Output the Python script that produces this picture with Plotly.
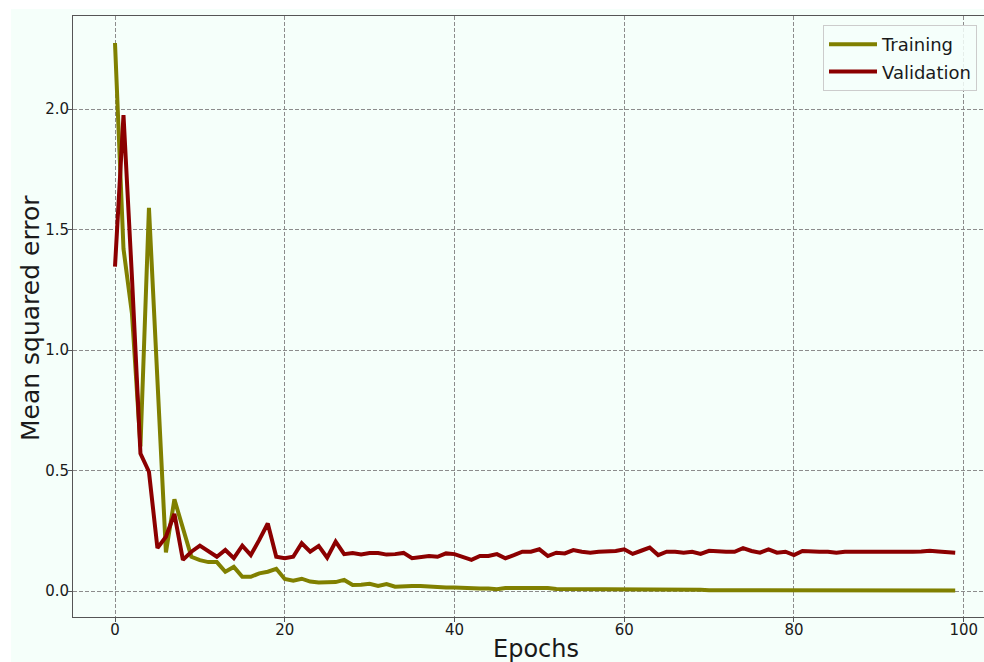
import plotly.graph_objects as go

# Loss history per epoch
epochs = list(range(100))

training_mse = [
    2.274, 1.42, 1.15, 0.60, 1.59, 0.87, 0.16, 0.38, 0.26, 0.142,
    0.128, 0.12, 0.12, 0.08, 0.10, 0.059, 0.059, 0.073, 0.08, 0.092,
    0.05, 0.043, 0.051, 0.039, 0.035, 0.035, 0.037, 0.046, 0.025, 0.026,
    0.030, 0.021, 0.029, 0.018, 0.021, 0.021, 0.021, 0.018, 0.015, 0.015,
    0.015, 0.012, 0.011, 0.010, 0.010, 0.007, 0.012, 0.012, 0.011, 0.012,
    0.014, 0.012, 0.008, 0.008, 0.008, 0.008, 0.008, 0.007, 0.007, 0.006,
    0.008, 0.006, 0.005, 0.005, 0.005, 0.005, 0.004, 0.004, 0.004, 0.005,
    0.003, 0.003, 0.004, 0.004, 0.004, 0.004, 0.003, 0.003, 0.004, 0.005,
    0.005, 0.002, 0.002, 0.002, 0.003, 0.002, 0.002, 0.002, 0.002, 0.003,
    0.002, 0.002, 0.002, 0.002, 0.002, 0.002, 0.002, 0.002, 0.002, 0.002,
]

validation_mse = [
    1.346, 1.975, 1.30, 0.57, 0.495, 0.178, 0.225, 0.32, 0.129, 0.163,
    0.188, 0.165, 0.142, 0.17, 0.136, 0.188, 0.149, 0.212, 0.28, 0.142,
    0.136, 0.142, 0.198, 0.163, 0.187, 0.138, 0.205, 0.153, 0.158, 0.152,
    0.158, 0.158, 0.151, 0.153, 0.158, 0.136, 0.14, 0.145, 0.142, 0.156,
    0.153, 0.142, 0.129, 0.145, 0.145, 0.153, 0.136, 0.149, 0.163, 0.163,
    0.173, 0.145, 0.159, 0.156, 0.170, 0.163, 0.159, 0.163, 0.163, 0.166,
    0.173, 0.154, 0.167, 0.18, 0.149, 0.163, 0.163, 0.159, 0.163, 0.154,
    0.167, 0.163, 0.163, 0.163, 0.178, 0.166, 0.159, 0.173, 0.159, 0.163,
    0.149, 0.166, 0.163, 0.163, 0.163, 0.159, 0.163, 0.163, 0.159, 0.163,
    0.163, 0.159, 0.162, 0.163, 0.163, 0.164, 0.167, 0.164, 0.162, 0.159,
]

x_ticks = [0, 20, 40, 60, 80, 100]
y_ticks = [0.0, 0.5, 1.0, 1.5, 2.0]

MINT = "#F5FFFA"
FONT = "DejaVu Sans"
TEXT = "#1a1a1a"
GRID = "#8c8c8c"
SPINE = "#555555"

fig = go.Figure()
fig.add_trace(go.Scatter(
    x=epochs, y=training_mse, mode="lines", name="Training",
    line=dict(color="#808000", width=4), legendgroup="t",
))
fig.add_trace(go.Scatter(
    x=epochs, y=validation_mse, mode="lines", name="Validation",
    line=dict(color="#8B0000", width=4), legendgroup="v",
))

W, H = 984, 662
ml, mr, mt, mb = 73, 0, 16, 45
pw, ph = W - ml - mr, H - mt - mb

def px_x(p):
    return (p - ml) / pw

def px_y(p):
    return 1 - (p - mt) / ph

fig.update_layout(
    width=W, height=H,
    margin=dict(l=ml, r=mr, t=mt, b=mb, pad=0, autoexpand=False),
    paper_bgcolor=MINT,
    plot_bgcolor=MINT,
    font=dict(family=FONT, color=TEXT, size=15),
    showlegend=True,
    legend=dict(
        x=px_x(823), y=px_y(25), xanchor="left", yanchor="top",
        bgcolor="rgba(245,255,250,0.85)", bordercolor="#cccccc", borderwidth=1,
        font=dict(family=FONT, size=18, color=TEXT),
        traceorder="grouped", tracegroupgap=1, itemwidth=48,
    ),
    shapes=[
        # white frame strips along the left and top edges
        dict(type="rect", xref="paper", yref="paper", layer="below",
             x0=px_x(0), x1=px_x(11), y0=px_y(H), y1=px_y(0),
             fillcolor="white", line=dict(width=0)),
        dict(type="rect", xref="paper", yref="paper", layer="below",
             x0=px_x(0), x1=px_x(W), y0=px_y(9), y1=px_y(0),
             fillcolor="white", line=dict(width=0)),
    ],
    annotations=[
        dict(text="Epochs", xref="paper", yref="paper",
             x=px_x(535.5), y=px_y(649), xanchor="center", yanchor="middle",
             showarrow=False, font=dict(family=FONT, size=24, color=TEXT)),
        dict(text="Mean squared error", xref="paper", yref="paper",
             x=px_x(30), y=px_y(318), xanchor="center", yanchor="middle",
             textangle=-90, showarrow=False,
             font=dict(family=FONT, size=25, color=TEXT)),
    ],
)

fig.update_xaxes(
    range=[(ml - 115) / 8.487, (W - 115) / 8.487],
    tickvals=x_ticks, ticktext=[str(v) for v in x_ticks],
    ticks="outside", ticklen=4, tickcolor=SPINE, ticklabelstandoff=-5,
    tickfont=dict(family=FONT, size=15, color=TEXT),
    showline=True, linecolor=SPINE, linewidth=1, mirror=True,
    showgrid=True, gridcolor=GRID, gridwidth=1, griddash="4px,2px",
    zeroline=False, automargin=False,
)
fig.update_yaxes(
    range=[(591 - (H - mb)) / 241, (591 - mt) / 241],
    tickvals=y_ticks, ticktext=[f"{v:.1f}" for v in y_ticks],
    ticks="outside", ticklen=4, tickcolor=SPINE, ticklabelstandoff=-4,
    tickfont=dict(family=FONT, size=15, color=TEXT),
    showline=True, linecolor=SPINE, linewidth=1, mirror=False,
    showgrid=True, gridcolor=GRID, gridwidth=1, griddash="4px,2px",
    zeroline=False, automargin=False,
)

fig.write_html("out.html")
